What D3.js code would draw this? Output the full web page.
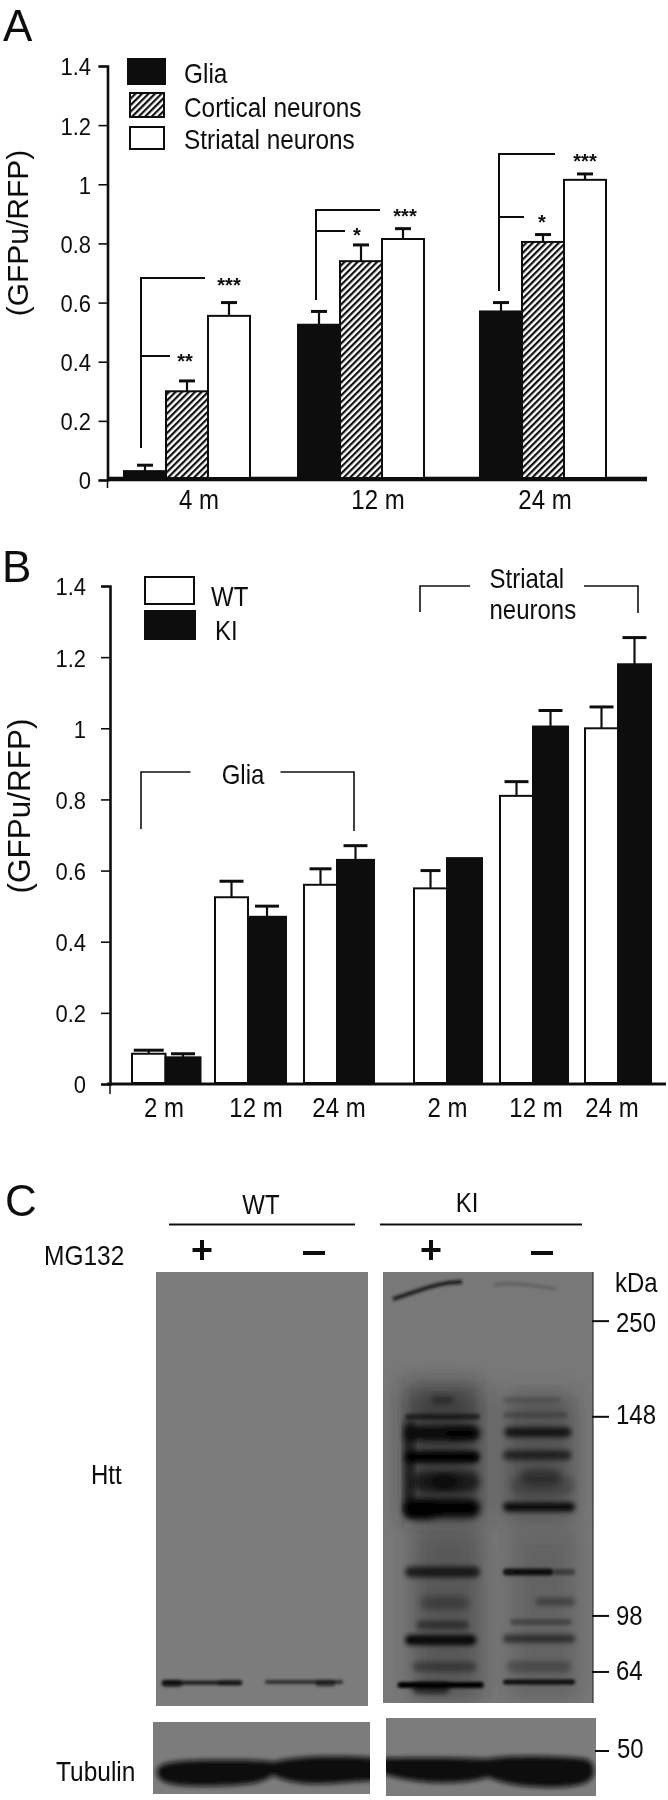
<!DOCTYPE html>
<html><head><meta charset="utf-8">
<script src="https://cdn.jsdelivr.net/npm/d3@7"></script>
<style>html,body{margin:0;padding:0;background:#fff}svg{display:block}text{font-family:"Liberation Sans",Arial,sans-serif;fill:#111}</style>
</head><body><svg id="c" width="668" height="1800"></svg>
<script>
// Panel A data
const agesA = ["4 m","12 m","24 m"];
const seriesA = ["Glia","Cortical neurons","Striatal neurons"];
const gliaA = [0.03,0.525,0.57];
const gliaErrA = [0.05,0.57,0.60];
const corticalA = [0.30,0.74,0.805];
const corticalErrA = [0.335,0.795,0.83];
const striatalA = [0.555,0.815,1.015];
const striatalErrA = [0.60,0.85,1.035];
const yTicks = [0,0.2,0.4,0.6,0.8,1,1.2,1.4];
// Panel B data
const agesB = ["2 m","12 m","24 m","2 m ","12 m ","24 m "];
const seriesB = ["WT","KI"];
const wtB = [0.085,0.525,0.56,0.55,0.81,1.0];
const wtErrB = [0.095,0.57,0.605,0.60,0.85,1.06];
const kiB = [0.075,0.47,0.63,0.635,1.005,1.18];
const kiErrB = [0.085,0.50,0.67,null,1.05,1.255];
// Panel C data. Bands: [position down the blot 0..1, strength, thickness, lane start 0..1, lane end 0..1]
const markers = ["250","148","98","64"];
const markerPos = [0.114,0.336,0.798,0.928];
const wtPlusBands = [[0.953,.8,4,0,1],[0.955,.6,7,0,.25],[0.953,.4,5,.7,1]];
const wtMinusBands = [[0.951,.7,3.5,0,1],[0.955,.5,6,.65,.9]];
const kiPlusBands = [
 [0.297,.35,8,.35,.65],[0.336,.55,6,0,1],[0.374,.9,14,0,1],[0.374,.5,12,.55,.95],[0.429,.95,12,0,1],
 [0.487,.6,20,.1,1],[0.487,.6,14,.35,.7],[0.548,1,18,0,1],[0.555,.8,14,0,.4],
 [0.696,.7,11,.0,1],[0.768,.3,14,.2,.85],[0.819,.45,9,.15,.85],[0.854,.95,10,0,.95],[0.916,.35,10,.1,.95],
 [0.958,1,6,-.1,1.05],[0.965,.6,12,.1,.6]];
const kiMinusBands = [
 [0.297,.15,6,0,.8],[0.332,.2,6,0,.9],[0.372,.75,10,.02,.95],[0.425,.6,10,0,.95],[0.475,.35,16,.25,.8],
 [0.495,.2,20,.1,1],[0.545,.9,9,0,1],[0.696,.85,7,0,.7],[0.696,.4,6,.7,1],[0.765,.35,8,.45,1],
 [0.812,.3,6,.1,.95],[0.851,.55,8,0,1],[0.916,.25,12,.05,.95],[0.951,.9,5,0,1]];

const svg = d3.select("#c");
const defs = svg.append("defs");
const hatch = defs.append("pattern").attr("id","hatch").attr("width",4.6).attr("height",4.6)
  .attr("patternUnits","userSpaceOnUse").attr("patternTransform","rotate(45)");
hatch.append("rect").attr("width",4.6).attr("height",4.6).attr("fill","#fff");
hatch.append("rect").attr("width",2.2).attr("height",4.6).attr("fill","#111");
[["b1",1.5],["b2",2.4],["b3",3.5],["b4",11]].forEach(([id,s])=>{
  defs.append("filter").attr("id",id).attr("x","-30%").attr("y","-150%").attr("width","160%").attr("height","400%")
   .append("feGaussianBlur").attr("stdDeviation",s);
});
defs.append("filter").attr("id","soft").append("feGaussianBlur").attr("stdDeviation",0.6);
const root = svg.append("g").attr("filter","url(#soft)");
const SY=1.12;

function label(t,x,y,size,anchor,sy){
  return root.append("text").attr("transform",`translate(${x},${y}) scale(1,${sy||SY})`)
    .attr("font-size",size).attr("text-anchor",anchor||"start").text(t);
}
function vlabel(t,x,y,size){
  return root.append("text").attr("transform",`translate(${x},${y}) rotate(-90)`)
    .attr("font-size",size).attr("text-anchor","middle").text(t);
}
function line(pts,w,col){
  root.append("path").attr("d",d3.line()(pts)).attr("fill","none").attr("stroke",col||"#111").attr("stroke-width",w||2);
}
function yAxis(scale,x,size,labelX){
  const g=root.append("g").attr("transform",`translate(${x},0)`)
    .call(d3.axisLeft(scale).tickValues(yTicks).tickSize(9).tickFormat(d3.format("~g")));
  g.select(".domain").attr("stroke","#111").attr("stroke-width",2.6);
  g.selectAll(".tick line").attr("stroke","#111").attr("stroke-width",1.6);
  g.selectAll(".tick text").attr("font-size",size).attr("x",labelX-x).attr("dy","0.36em").attr("text-anchor","end")
    .attr("transform",`scale(1,${SY})`)
    .style("font-family",'"Liberation Sans",Arial,sans-serif').attr("fill","#111");
}
function drawBar(x,w,y0,yv,yerr,fill,capW){
  if(yerr!==null){
    const c=x+w/2;
    line([[c,yv],[c,yerr]],2.2);
    line([[c-capW/2,yerr],[c+capW/2,yerr]],3);
  }
  root.append("rect").attr("x",x).attr("y",yv).attr("width",w).attr("height",y0-yv)
    .attr("fill",fill).attr("stroke","#111").attr("stroke-width",2);
}

// ---------- Panel A
label("A",3,41,44,"start",1);
const yA=d3.scaleLinear().domain([0,1.4]).range([480,66]);
const gA=d3.scaleOrdinal().domain(agesA).range([124,298,480]);
const subA=d3.scaleBand().domain(seriesA).range([0,126]);
const valsA=[gliaA,corticalA,striatalA], errsA=[gliaErrA,corticalErrA,striatalErrA];
const fillsA=["#111","url(#hatch)","#fff"];
line([[107,479],[647,479]],4.5);
seriesA.forEach((s,i)=>agesA.forEach((a,j)=>{
  drawBar(gA(a)+subA(s),subA.bandwidth(),yA(0)-2,yA(valsA[i][j]),yA(errsA[i][j]),fillsA[i],16);
}));
yAxis(yA,107.5,22,91);
line([[107.5,480],[107.5,488]],1.5);
agesA.forEach((a,j)=>label(a,[199,378,545][j],509,24,"middle"));
vlabel("(GFPu/RFP)",28,233,30);
[[128,59,37,25],[130,93,34,24],[130,127,34,22]].forEach((r,i)=>{
  root.append("rect").attr("x",r[0]).attr("y",r[1]).attr("width",r[2]).attr("height",r[3])
   .attr("fill",fillsA[i]).attr("stroke","#111").attr("stroke-width",2);
});
seriesA.forEach((s,i)=>label(s,184,[83,117,149][i],24.4));
[[141,278,448,205,356,170],[316,210,300,380,231,345],[499,154,291,555,217,524]].forEach(b=>{
  line([[b[0],b[2]],[b[0],b[1]],[b[3],b[1]]],2);
  line([[b[0],b[4]],[b[5],b[4]]],2);
});
[["***",229,292],["**",185,368],["***",405,223],["*",357,242],["***",585,168],["*",542,229]]
  .forEach(s=>label(s[0],s[1],s[2],20,"middle",1).attr("font-weight","bold"));

// ---------- Panel B
label("B",2,582,44,"start",1);
const yB=d3.scaleLinear().domain([0,1.4]).range([1084,586]);
const gB=d3.scaleOrdinal().domain(agesB).range([132,215,304,414,500,585]);
const barW=[[33.5,35],[33,38],[33,37],[33,35],[33,35],[33,33]];
line([[107,1084],[666,1084]],3);
agesB.forEach((a,j)=>{
  drawBar(gB(a),barW[j][0],yB(0)-1,yB(wtB[j]),yB(wtErrB[j]),"#fff",[30,24,22,20,24,24][j]);
  drawBar(gB(a)+barW[j][0],barW[j][1],yB(0)-1,yB(kiB[j]),kiErrB[j]===null?null:yB(kiErrB[j]),"#111",[24,24,24,0,24,24][j]);
});
yAxis(yB,110,22,86);
line([[110,1084],[110,1094]],1.5);
agesB.forEach((a,j)=>label(a.trim(),[164,256,339,447.5,536,612][j],1117,24,"middle"));
vlabel("(GFPu/RFP)",29.5,806,31.5);
root.append("rect").attr("x",145).attr("y",577).attr("width",49).attr("height",27).attr("fill","#fff").attr("stroke","#111").attr("stroke-width",2);
root.append("rect").attr("x",145).attr("y",611).attr("width",50).attr("height",28).attr("fill","#111").attr("stroke","#111").attr("stroke-width",2);
label(seriesB[0],211,606,24); label(seriesB[1],215,640,24);
line([[141,829],[141,772],[190.5,772]],1.6);
line([[280.5,772],[354,772],[354,831]],1.6);
label("Glia",243,784,24,"middle");
line([[420,612],[420,586],[470,586]],1.6);
line([[584,586],[638,586],[638,613]],1.6);
label("Striatal",489.5,588,24);
label("neurons",489.5,619,24);

// ---------- Panel C
label("C",5,1216,44,"start",1);
const gelTop=1272, gelBottom=1703;
const gelY=d3.scaleLinear().domain([0,1]).range([gelTop,gelBottom]);
function gel(x,y,w,h,color){root.append("rect").attr("x",x).attr("y",y).attr("width",w).attr("height",h).attr("fill",color);}
gel(156,1272,212,434,"#7b7b7b");
gel(383,1272,210,431,"#787878");
line([[593,1272],[593,1703]],1.2,"#333");
defs.append("clipPath").attr("id","gelR").append("rect").attr("x",383).attr("y",1272).attr("width",210).attr("height",431);
const gelR=root.append("g").attr("clip-path","url(#gelR)");
function bands(layer,list,x,w){
  layer.selectAll(null).data(list).join("rect")
   .attr("x",d=>x+d[3]*w).attr("width",d=>(d[4]-d[3])*w)
   .attr("y",d=>gelY(d[0])-d[2]/2).attr("height",d=>d[2])
   .attr("rx",d=>d[2]/2)
   .attr("fill","#050505").attr("opacity",d=>d[1])
   .attr("filter",d=>d[2]>12?"url(#b3)":(d[2]>7?"url(#b2)":"url(#b1)"));
}
// lane smears
[[405,1385,76,135,.6,"#1a1a1a"],[504,1395,70,125,.45,"#2a2a2a"],[414,1530,68,170,.45,"#333"],[510,1530,68,170,.32,"#3a3a3a"]].forEach(s=>{
  gelR.append("rect").attr("x",s[0]).attr("y",s[1]).attr("width",s[2]).attr("height",s[3])
   .attr("fill",s[5]).attr("opacity",s[4]).attr("filter","url(#b4)");
});
// dark left edge of the KI + lane
gelR.append("rect").attr("x",404).attr("y",1420).attr("width",10).attr("height",95).attr("rx",5).attr("fill","#050505").attr("opacity",.7).attr("filter","url(#b3)");
bands(root,wtPlusBands,162,80);
bands(root,wtMinusBands,265,78);
bands(gelR,kiPlusBands,405,75);
bands(gelR,kiMinusBands,503,72);
gelR.append("path").attr("d","M393,1299C415,1293 435,1282 462,1282").attr("fill","none").attr("stroke","#1a1a1a").attr("stroke-width",4).attr("filter","url(#b1)");
gelR.append("path").attr("d","M494,1285C515,1281 540,1287 556,1289").attr("fill","none").attr("stroke","#333").attr("stroke-width",3).attr("opacity",.35).attr("filter","url(#b1)");

// tubulin
gel(153,1722,217,72,"#7c7c7c");
gel(386,1718,210,78,"#7c7c7c");
defs.append("clipPath").attr("id","tL").append("rect").attr("x",153).attr("y",1722).attr("width",217).attr("height",72);
defs.append("clipPath").attr("id","tR").append("rect").attr("x",386).attr("y",1718).attr("width",210).attr("height",78);
root.append("g").attr("clip-path","url(#tL)").append("path")
  .attr("d","M157,1772C157,1762 175,1760 220,1760C245,1760 262,1760 274,1762C290,1757 330,1755 376,1758L376,1781C350,1780 330,1786 300,1783C288,1781 280,1779 273,1775C265,1782 250,1786 205,1786C175,1786 157,1784 157,1772Z")
  .attr("fill","#0e0e0e").attr("filter","url(#b2)");
root.append("g").attr("clip-path","url(#tR)").append("path")
  .attr("d","M380,1758C410,1758 450,1757 487,1759C510,1755 560,1756 585,1759C592,1760 594,1766 594,1771C594,1781 585,1786 560,1787C530,1788 505,1785 488,1777C470,1784 430,1784 410,1780C398,1778 390,1776 380,1773Z")
  .attr("fill","#0e0e0e").attr("filter","url(#b2)");

line([[169,1224.5],[355,1224.5]],2);
line([[380,1224.5],[582,1224.5]],2);
label("WT",261,1214,24,"middle");
label("KI",467,1212,24,"middle");
label("MG132",44,1265,24.5);
[202,431].forEach(x=>{line([[x-9.5,1250],[x+9.5,1250]],4);line([[x,1240],[x,1260]],4);});
[314,542].forEach(x=>line([[x-11,1253],[x+11,1253]],4));
label("Htt",91,1484,24);
label("Tubulin",56,1781,24.5);
label("kDa",615,1292,24);
const markerLabelOff=[11,7,9,8];
markers.forEach((m,i)=>{
  const y=gelY(markerPos[i]);
  line([[592,y],[609,y]],2);
  label(m,616,y+markerLabelOff[i],24);
});
line([[595,1751],[609,1751]],2);
label("50",617,1758,24);
</script></body></html>
